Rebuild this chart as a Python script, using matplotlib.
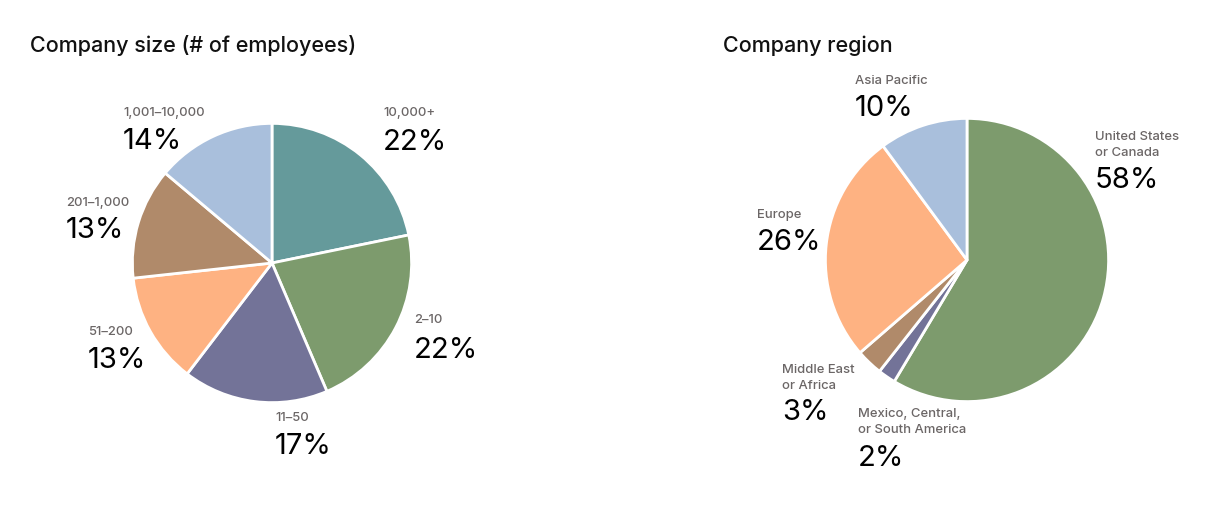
import matplotlib
matplotlib.use("Agg")
import matplotlib.pyplot as plt

# ---- data ----
size_labels = ["10,000+", "2–10", "11–50", "51–200", "201–1,000", "1,001–10,000"]
size_values = [22, 22, 17, 13, 13, 14]
region_labels = ["United States\nor Canada", "Mexico, Central,\nor South America",
                 "Middle East\nor Africa", "Europe", "Asia Pacific"]
region_values = [58, 2, 3, 26, 10]

# ---- styles ----
TEAL = "#659a9b"; GREEN = "#7d9b6d"; PURPLE = "#737398"
ORANGE = "#feb282"; BROWN = "#b08a6a"; BLUE = "#a9bfdc"
size_colors = [TEAL, GREEN, PURPLE, ORANGE, BROWN, BLUE]
region_colors = [GREEN, PURPLE, BROWN, ORANGE, BLUE]
LABEL_GRAY = "#6b6666"
FONT = ["Inter", "DejaVu Sans"]

W, H = 1215, 509
fig = plt.figure(figsize=(W / 100, H / 100), dpi=100)

def pie_axes(cx, cy, r):
    return fig.add_axes([(cx - r) / W, (H - cy - r) / H, 2 * r / W, 2 * r / H])

def ftext(x, y, s, **kw):
    fig.text(x / W, 1 - y / H, s, family=FONT, **kw)

def draw_pie(ax, values, colors):
    ax.pie(values, colors=colors, startangle=90, counterclock=False, radius=1,
           wedgeprops=dict(edgecolor="white", linewidth=2.0))
    ax.set_xlim(-1.01, 1.01); ax.set_ylim(-1.01, 1.01)
    ax.set_aspect("equal"); ax.axis("off")

draw_pie(pie_axes(272, 263, 141), size_values, size_colors)
draw_pie(pie_axes(967, 260, 143), region_values, region_colors)

# titles
ftext(30, 46, "Company size (# of employees)", fontsize=15.5, va="center",
      color="#111111", fontweight="medium")
ftext(723, 46, "Company region", fontsize=15.5, va="center",
      color="#111111", fontweight="medium")

# label layout (pixel positions: left x, label-center y, pct-center y)
size_pos = [(383, 113, 143), (414, 320, 350), (275, 418, 447),
            (88, 332, 360), (66, 203, 231), (123, 113, 142)]
region_pos = [(1095, 145, 181), (858, 422, 458), (782, 378, 413),
              (757, 215, 242), (855, 81, 108)]

def draw_labels(labels, values, pos):
    for lab, v, (x, ly, py) in zip(labels, values, pos):
        ftext(x, ly, lab, fontsize=9.4, color=LABEL_GRAY, va="center", ha="left",
              linespacing=1.4, fontweight="medium")
        ftext(x, py, f"{v}%", fontsize=21, color="black", va="center", ha="left")

draw_labels(size_labels, size_values, size_pos)
draw_labels(region_labels, region_values, region_pos)

fig.savefig("out.png", dpi=100, facecolor="white")
